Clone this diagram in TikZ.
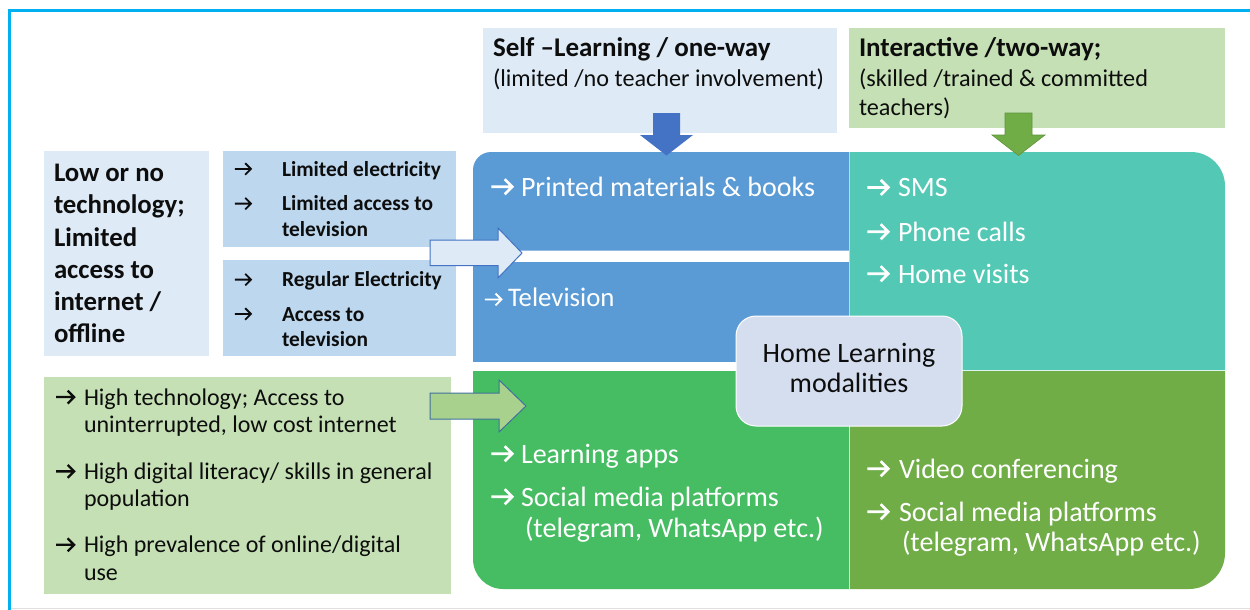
\documentclass[tikz,border=0pt]{standalone}
\usepackage{fontspec}
\setmainfont{Carlito}
\definecolor{frame}{HTML}{00B0F0}
\definecolor{paleblue}{HTML}{DEEBF7}
\definecolor{midblue}{HTML}{BDD7EE}
\definecolor{blueblk}{HTML}{5B9BD5}
\definecolor{tealblk}{HTML}{53C9B5}
\definecolor{greenblk}{HTML}{47BD63}
\definecolor{oliveblk}{HTML}{70AD47}
\definecolor{palegreen}{HTML}{C5E0B4}
\definecolor{homebox}{HTML}{D5DEEF}
\definecolor{arrowgreen}{HTML}{A9D18E}
\definecolor{arrowedge}{HTML}{41719C}
\definecolor{darkblue}{HTML}{4472C4}
\definecolor{textdark}{HTML}{0D0D0D}
\tikzset{
  box/.style={anchor=north west, inner sep=0pt, outer sep=0pt},
  ln/.style={anchor=base west, inner sep=0pt, outer sep=0pt},
  boldsm/.style={ln, text=textdark, font=\bfseries\fontsize{21.4}{25}\selectfont},
  boldbig/.style={ln, text=textdark, font=\bfseries\fontsize{26.8}{31}\selectfont},
  headtxt/.style={ln, text=textdark, font=\bfseries\fontsize{27}{31}\selectfont},
  subtxt/.style={ln, text=textdark, font=\fontsize{24.2}{28}\selectfont},
  wtxt/.style={ln, text=white, font=\fontsize{28}{32}\selectfont},
  gtxt/.style={ln, text=textdark, font=\fontsize{24}{28}\selectfont},
}
% chevron arrow drawn inline, in a box of the given width
\newcommand{\rarr}[2][0.095]{\makebox[#2][l]{\tikz[x=1em,y=1em,baseline=0pt]{\draw[draw=., line width=#1em, line join=miter, line cap=butt] (0.02,0.33) -- (0.76,0.33) (0.5,0.6) -- (0.77,0.33) -- (0.5,0.06);}}}
\begin{document}
\begin{tikzpicture}[x=1pt,y=-1pt]
\useasboundingbox (0,0) rectangle (1250,610);
\fill[color=white] (0,0) rectangle (1250,610);
% frame
\draw[frame, line width=3] (9.5,610) -- (9.5,11) -- (1250,11);
\draw[black!12, line width=1.5] (11,608.5) -- (1250,608.5);

% left column boxes
\node[box, fill=paleblue, minimum width=165, minimum height=205] (lowtech) at (44,151) {};
\node[box, fill=midblue, minimum width=233, minimum height=96] (limel) at (223,151) {};
\node[box, fill=midblue, minimum width=233, minimum height=96] (regel) at (223,260) {};
\node[box, fill=palegreen, minimum width=407, minimum height=217] (hightech) at (44,377) {};

% top boxes
\node[box, fill=paleblue, minimum width=354, minimum height=105] (selfl) at (483,28) {};
\node[box, fill=palegreen, minimum width=376, minimum height=100] (inter) at (849,28) {};

% quadrant blocks
\fill[blueblk] (473,250.5) -- (473,170) arc[start angle=180,end angle=270,radius=18] -- (849,152) -- (849,250.5) -- cycle;
\fill[blueblk] (473,262) rectangle (849,362);
\fill[tealblk] (849,152) -- (1191,152) arc[start angle=270,end angle=360,radius=34] -- (1225,370.5) -- (849,370.5) -- cycle;
\fill[greenblk] (473,371) -- (849,371) -- (849,589) -- (503,589) arc[start angle=90,end angle=180,radius=30] -- cycle;
\fill[oliveblk] (849,370.5) -- (1225,370.5) -- (1225,553) arc[start angle=0,end angle=90,radius=36] -- (849,589) -- cycle;
\draw[white!80!tealblk, line width=0.8] (849,370.5) -- (1225,370.5);
\draw[white!75!greenblk, line width=0.8] (849,371) -- (849,589);
\draw[white!60!blueblk, line width=0.6] (849,152) -- (849,362);

% centre box
\node[box, fill=homebox, draw=white, line width=1, rounded corners=20, minimum width=226, minimum height=110] (home) at (736,316) {};

% block arrows
\fill[paleblue, draw=darkblue, line width=1] (430,240) -- (498,240) -- (498,228) -- (522,253) -- (498,278) -- (498,265.5) -- (430,265.5) -- cycle;
\fill[arrowgreen, draw=arrowedge, line width=1] (430,393) -- (499,393) -- (499,380) -- (526,406) -- (499,432) -- (499,419) -- (430,419) -- cycle;
\fill[darkblue] (653,113) -- (680,113) -- (680,135) -- (693,135) -- (666.5,155.5) -- (640,135) -- (653,135) -- cycle;
\fill[oliveblk, draw=oliveblk!85!black, line width=0.6] (1005,113) -- (1032,113) -- (1032,135) -- (1045,135) -- (1018.5,155.5) -- (992,135) -- (1005,135) -- cycle;

% texts: low tech
\node[boldbig] (lt1) at (54,181.7) {Low or no};
\node[boldbig] (lt2) at (54,213.9) {technology;};
\node[boldbig] (lt3) at (54,246.1) {Limited};
\node[boldbig] (lt4) at (54,278.3) {access to};
\node[boldbig] (lt5) at (54,310.5) {internet /};
\node[boldbig] (lt6) at (54,342.7) {offline};

\node[boldsm] (la1) at (234,176) {\rarr[0.085]{1em}};
\node[boldsm] (lb1) at (282,176) {Limited electricity};
\node[boldsm] (la2) at (234,210.7) {\rarr[0.085]{1em}};
\node[boldsm] (lb2) at (282,210.7) {Limited access to};
\node[boldsm] (lb3) at (282,236.3) {television};
\node[boldsm] (ra1) at (234,286.7) {\rarr[0.085]{1em}};
\node[boldsm] (rb1) at (282,286.7) {Regular Electricity};
\node[boldsm] (ra2) at (234,321) {\rarr[0.085]{1em}};
\node[boldsm] (rb2) at (282,321) {Access to};
\node[boldsm] (rb3) at (282,346.7) {television};

% top texts
\node[headtxt] (s1) at (493,57) {Self –Learning / one-way};
\node[subtxt] (s2) at (493,86.7) {(limited /no teacher involvement)};
\node[headtxt] (i1) at (859,57) {Interactive /two-way;};
\node[subtxt] (i2) at (859,86.7) {(skilled /trained \& committed};
\node[subtxt] (i3) at (859,115) {teachers)};

% white texts
\node[wtxt] (w1) at (490,196) {\rarr{31pt}Printed materials \& books};
\node[wtxt, font=\fontsize{26.8}{31}\selectfont] (w2) at (484,306.7) {{\fontsize{22}{26}\selectfont\rarr[0.085]{24pt}}Television};
\node[wtxt] (w3) at (866,196.7) {\rarr{32pt}SMS};
\node[wtxt] (w4) at (866,241) {\rarr{32pt}Phone calls};
\node[wtxt] (w5) at (866,283) {\rarr{32pt}Home visits};
\node[wtxt] (w6) at (490,463) {\rarr{31pt}Learning apps};
\node[wtxt] (w7) at (490,506) {\rarr{31pt}Social media platforms};
\node[wtxt] (w8) at (525,537) {(telegram, WhatsApp etc.)};
\node[wtxt] (w9) at (866,478) {\rarr{33pt}Video conferencing};
\node[wtxt] (w10) at (866,521) {\rarr{33pt}Social media platforms};
\node[wtxt] (w11) at (902,551.7) {(telegram, WhatsApp etc.)};

% home label
\node[anchor=base, inner sep=0pt, text=textdark, font=\fontsize{28}{32}\selectfont] (h1) at (849,362) {Home Learning};
\node[anchor=base, inner sep=0pt, text=textdark, font=\fontsize{28}{32}\selectfont] (h2) at (849,392) {modalities};

% high tech texts
\node[gtxt] (g1) at (55,405) {\rarr{29pt}High technology; Access to};
\node[gtxt] (g2) at (84,432.7) {uninterrupted, low cost internet};
\node[gtxt] (g3) at (55,479.3) {\rarr{29pt}High digital literacy/ skills in general};
\node[gtxt] (g4) at (84,506.7) {population};
\node[gtxt] (g5) at (55,552.7) {\rarr{29pt}High prevalence of online/digital};
\node[gtxt] (g6) at (84,580) {use};
\end{tikzpicture}
\end{document}
